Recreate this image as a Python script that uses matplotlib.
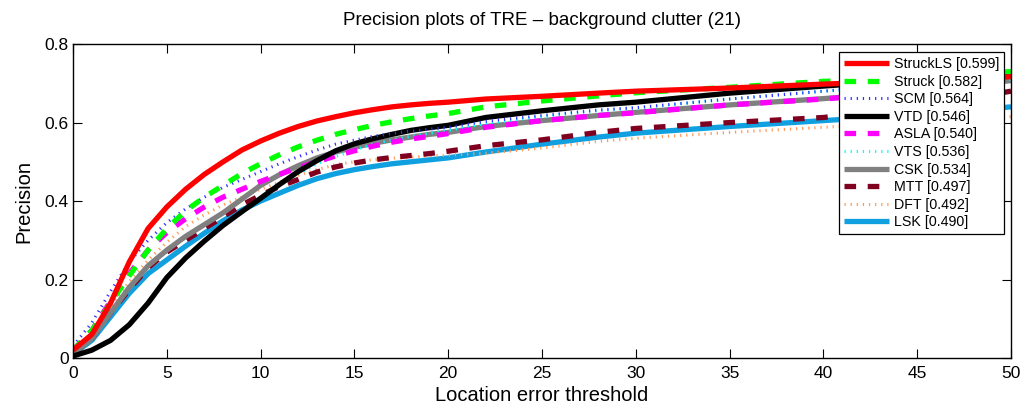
import matplotlib
matplotlib.use("Agg")
import matplotlib.pyplot as plt

plt.rcParams['font.family'] = ['Liberation Sans', 'DejaVu Sans']

thr = list(range(0, 21)) + [22, 25, 28, 30, 35, 40, 45, 50]

struckls = [0.02, 0.06, 0.14, 0.245, 0.33, 0.385, 0.43, 0.468, 0.50, 0.53, 0.553, 0.573, 0.59, 0.604, 0.615, 0.625, 0.633, 0.64, 0.645, 0.649, 0.652,
            0.66, 0.667, 0.675, 0.68, 0.688, 0.698, 0.707, 0.717]
struck = [0.02, 0.07, 0.14, 0.21, 0.275, 0.33, 0.375, 0.41, 0.44, 0.47, 0.495, 0.518, 0.538, 0.555, 0.57, 0.582, 0.593, 0.602, 0.61, 0.617, 0.623,
          0.64, 0.655, 0.668, 0.676, 0.69, 0.705, 0.715, 0.73]
scm = [0.03, 0.09, 0.17, 0.245, 0.30, 0.345, 0.38, 0.41, 0.435, 0.455, 0.475, 0.495, 0.513, 0.53, 0.545, 0.555, 0.565, 0.572, 0.578, 0.583, 0.588,
       0.603, 0.618, 0.632, 0.638, 0.66, 0.68, 0.70, 0.72]
vtd = [0.005, 0.02, 0.045, 0.085, 0.14, 0.205, 0.255, 0.298, 0.338, 0.373, 0.407, 0.442, 0.475, 0.503, 0.528, 0.546, 0.559, 0.57, 0.58, 0.587, 0.593,
       0.613, 0.63, 0.645, 0.652, 0.675, 0.693, 0.71, 0.725]
asla = [0.02, 0.07, 0.145, 0.215, 0.275, 0.32, 0.355, 0.385, 0.41, 0.43, 0.45, 0.468, 0.485, 0.50, 0.515, 0.528, 0.54, 0.55, 0.558, 0.565, 0.572,
        0.588, 0.605, 0.618, 0.625, 0.645, 0.66, 0.68, 0.70]
vts = [0.005, 0.02, 0.045, 0.085, 0.14, 0.205, 0.255, 0.298, 0.338, 0.373, 0.407, 0.44, 0.47, 0.495, 0.513, 0.53, 0.545, 0.556, 0.565, 0.573, 0.58,
       0.598, 0.615, 0.63, 0.637, 0.66, 0.68, 0.695, 0.71]
csk = [0.01, 0.05, 0.115, 0.18, 0.235, 0.275, 0.31, 0.34, 0.37, 0.405, 0.44, 0.467, 0.49, 0.51, 0.525, 0.537, 0.547, 0.556, 0.563, 0.57, 0.575,
       0.59, 0.605, 0.618, 0.626, 0.645, 0.661, 0.68, 0.707]
mtt = [0.01, 0.05, 0.115, 0.175, 0.23, 0.27, 0.30, 0.33, 0.36, 0.39, 0.415, 0.437, 0.455, 0.474, 0.487, 0.497, 0.505, 0.511, 0.516, 0.521, 0.527,
       0.541, 0.556, 0.575, 0.585, 0.60, 0.613, 0.64, 0.68]
dft = [0.015, 0.06, 0.13, 0.195, 0.25, 0.295, 0.335, 0.365, 0.39, 0.41, 0.43, 0.448, 0.465, 0.48, 0.493, 0.50, 0.505, 0.509, 0.512, 0.515, 0.517,
       0.522, 0.535, 0.552, 0.56, 0.575, 0.588, 0.60, 0.615]
lsk = [0.01, 0.045, 0.105, 0.165, 0.215, 0.25, 0.285, 0.318, 0.35, 0.377, 0.40, 0.42, 0.44, 0.457, 0.47, 0.48, 0.488, 0.495, 0.50, 0.505, 0.51,
       0.525, 0.545, 0.563, 0.573, 0.59, 0.605, 0.62, 0.64]

names = ['StruckLS [0.599]', 'Struck [0.582]', 'SCM [0.564]', 'VTD [0.546]', 'ASLA [0.540]',
         'VTS [0.536]', 'CSK [0.534]', 'MTT [0.497]', 'DFT [0.492]', 'LSK [0.490]']
series = [struckls, struck, scm, vtd, asla, vts, csk, mtt, dft, lsk]
colors = ['#ff0000', '#00ff00', '#3030ff', '#000000', '#ff00ff',
          '#00ffff', '#808080', '#800020', '#ff9955', '#10a0e0']
styles = ['-', (0, (2.2, 2.2)), (0, (0.4, 1.6)), '-', (0, (2.2, 2.2)),
          (0, (0.4, 1.6)), '-', (0, (2.2, 2.2)), (0, (0.4, 1.6)), '-']
widths = [3.8, 3.8, 2.2, 3.8, 3.8, 2.2, 3.8, 3.8, 2.2, 3.8]

fig = plt.figure(figsize=(10.3, 4.12), dpi=100)
ax = fig.add_axes([0.0709, 0.131, 0.9107, 0.762])

# draw from the last to the first so StruckLS ends up on top
for i in range(len(series) - 1, -1, -1):
    ax.plot(thr, series[i], color=colors[i], linestyle=styles[i], lw=widths[i],
            label=names[i], solid_capstyle='butt', dash_capstyle='butt')

ax.set_xlim(0, 50)
ax.set_ylim(0, 0.8)
ax.set_xticks(range(0, 51, 5))
ax.set_yticks([0, 0.2, 0.4, 0.6, 0.8])
ax.set_yticklabels(['0', '0.2', '0.4', '0.6', '0.8'])
ax.tick_params(direction='in', length=6.5, width=0.8, top=True, right=True, labelsize=12.5)
ax.tick_params(axis='x', pad=6)
ax.tick_params(axis='y', pad=3)
for s in ax.spines.values():
    s.set_linewidth(1.0)

ax.set_title('Precision plots of TRE \u2013 background clutter (21)', fontsize=13.5, pad=14)
ax.set_xlabel('Location error threshold', fontsize=14.5, labelpad=3)
ax.set_ylabel('Precision', fontsize=14.5, labelpad=8)

h, l = ax.get_legend_handles_labels()
leg = ax.legend(h[::-1], l[::-1], loc='upper right', bbox_to_anchor=(0.9925, 0.9745),
                fontsize=10.3, frameon=True, fancybox=False, framealpha=1, borderaxespad=0,
                handlelength=3.1, handletextpad=0.35, labelspacing=0.25, borderpad=0.35)
leg.get_frame().set_edgecolor('black')
leg.get_frame().set_linewidth(0.9)

fig.savefig('out.png', dpi=100)
